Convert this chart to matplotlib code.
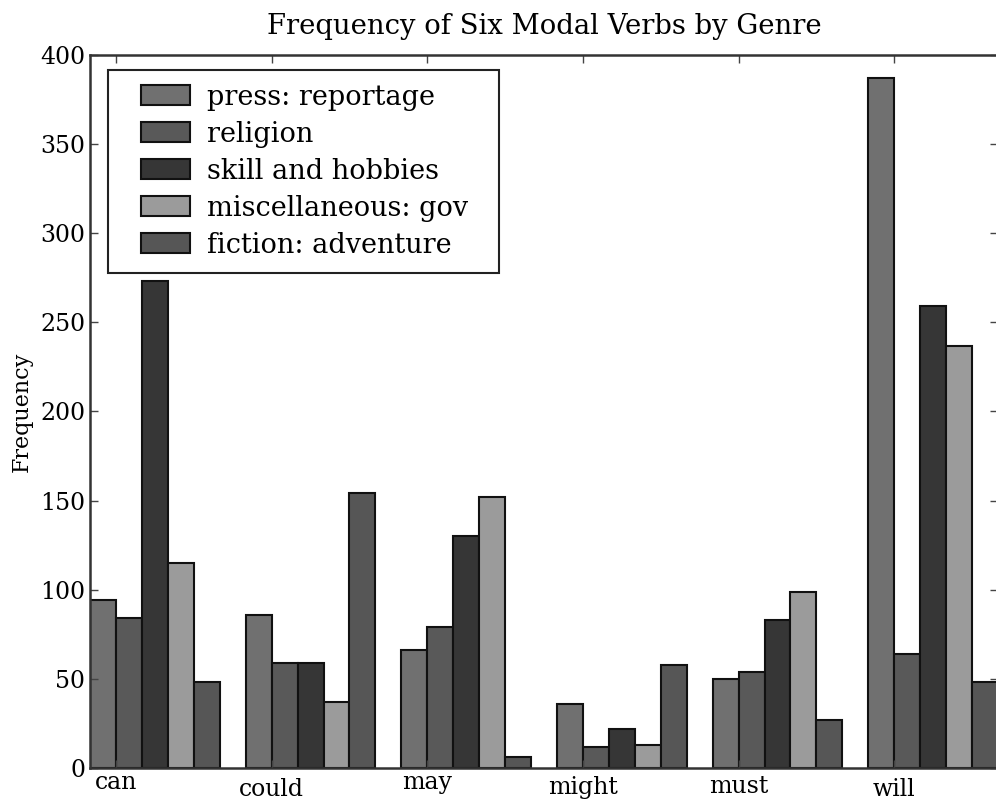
import numpy as np
from matplotlib import pyplot as plt
from matplotlib.patches import Rectangle
from matplotlib.transforms import ScaledTranslation

# modal verb counts per genre
modals = ['can', 'could', 'may', 'might', 'must', 'will']
genres = ['press: reportage', 'religion', 'skill and hobbies',
          'miscellaneous: gov', 'fiction: adventure']
press = [94, 86, 66, 36, 50, 387]
religion = [84, 59, 79, 12, 54, 64]
hobbies = [273, 59, 130, 22, 83, 259]
gov = [115, 37, 152, 13, 99, 237]
adventure = [48, 154, 6, 58, 27, 48]

colors = ['#707070', '#595959', '#363636', '#9b9b9b', '#565656']

plt.rcParams['font.family'] = 'DejaVu Serif'

fig = plt.figure(figsize=(9.96, 7.99), dpi=100)
ax = fig.add_axes([0.0904, 0.0388, 0.9116, 0.8924])

ind = np.arange(len(modals))
width = 1 / (len(genres) + 1)
series = [press, religion, hobbies, gov, adventure]
bar_groups = []
for c in range(len(genres)):
    bars = ax.bar(ind + c * width, series[c], width, align='edge',
                  color=colors[c], edgecolor='#111111', linewidth=1.5)
    bar_groups.append(bars)

ax.set_xticks(ind + width)
ax.set_xticklabels(modals, fontsize=17)
ax.set_xlim(0, 5 + 5 * width)
ax.set_ylim(0, 400)
ax.set_yticks(range(0, 401, 50))
ax.tick_params(axis='y', labelsize=17)
ax.tick_params(direction='in', length=6, width=1, top=True, right=True,
               color='#444444')
for s in ax.spines.values():
    s.set_linewidth(1.8)
    s.set_color('#333333')

# old-style labels were aligned on the ink top, so words with tall
# letters sit a little lower
nudge = {'can': -2, 'could': 5, 'may': -2, 'might': 3, 'must': 2, 'will': 5}
for lab in ax.get_xticklabels():
    dy = nudge.get(lab.get_text(), 0)
    lab.set_transform(lab.get_transform() +
                      ScaledTranslation(0, -dy / 100, fig.dpi_scale_trans))

# legend without its own frame; the box is drawn below with wider
# side padding than the top/bottom, like the old renderer
leg = ax.legend([b[0] for b in bar_groups], genres, loc='upper left',
                bbox_to_anchor=(0.0562, 0.9597), borderaxespad=0,
                borderpad=0, frameon=False, fontsize=19.5,
                handlelength=1.8, handleheight=0.75, handletextpad=0.65,
                labelspacing=0.37)
leg.set_zorder(6)

ax.set_ylabel('Frequency', fontsize=16)
ax.yaxis.set_label_coords(-0.063, 0.50)
ax.set_title('Frequency of Six Modal Verbs by Genre', fontsize=19.8, pad=15)

fig.canvas.draw()
bb = leg.get_window_extent()
W, H = fig.bbox.width, fig.bbox.height
x0, x1 = bb.x0 - 33, bb.x1 + 30
y0, y1 = bb.y0 - 14, bb.y1 + 14
frame = Rectangle((x0 / W, y0 / H), (x1 - x0) / W, (y1 - y0) / H,
                  transform=fig.transFigure, facecolor='white',
                  edgecolor='#222222', linewidth=1.5, zorder=5,
                  clip_on=False)
ax.add_patch(frame)

fig.savefig('out.png', dpi=100)
